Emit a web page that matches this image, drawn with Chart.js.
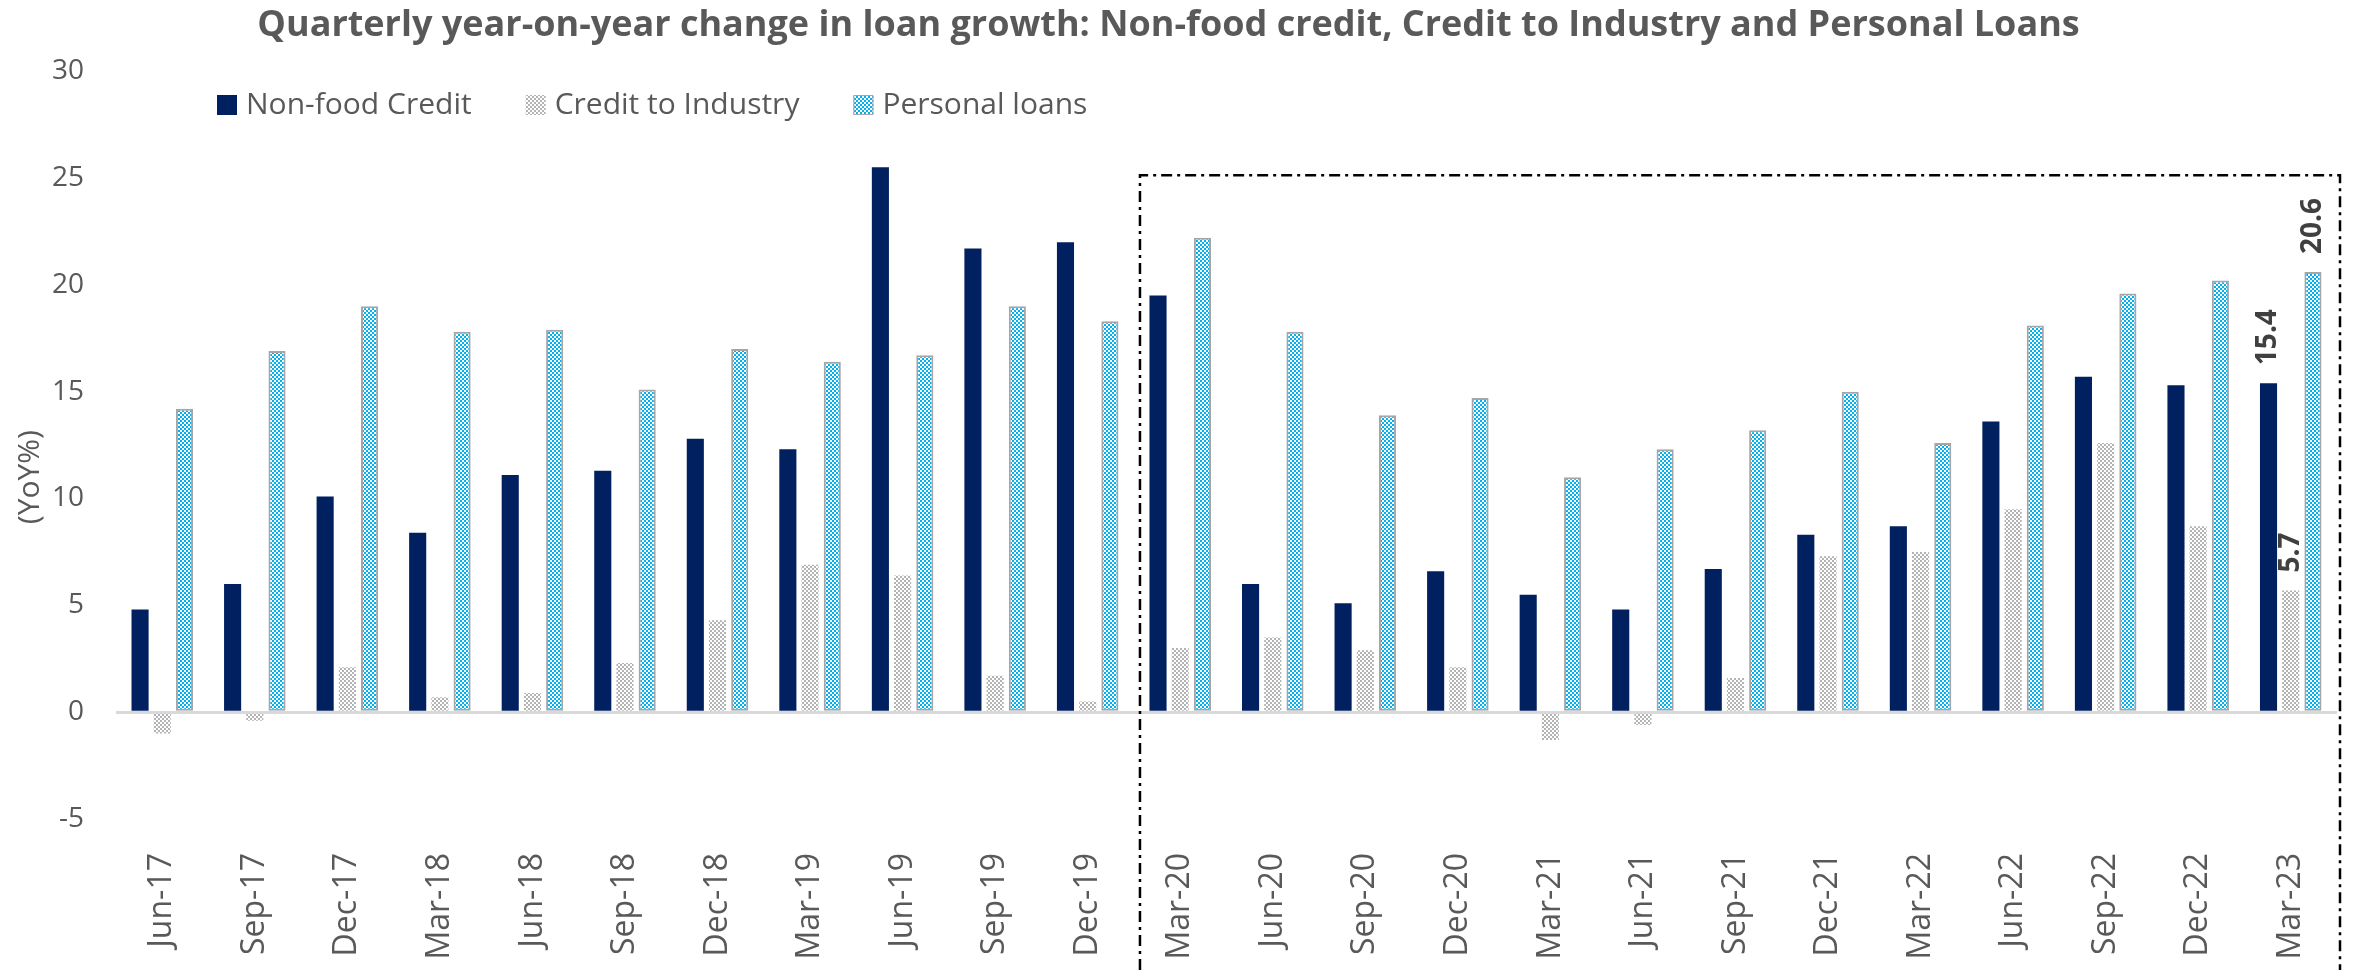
<!DOCTYPE html>
<html>
<head>
<meta charset="utf-8">
<title>Loan growth</title>
<script src="https://cdn.jsdelivr.net/npm/chart.js@4.4.1/dist/chart.umd.min.js"></script>
<style>
  html, body { margin: 0; padding: 0; background: #fff; }
  #wrap { width: 2364px; height: 970px; }
</style>
</head>
<body>
<div id="wrap"><canvas id="loanChart"></canvas></div>
<script>
// Data (YoY %)
const quarters = ['Jun-17', 'Sep-17', 'Dec-17', 'Mar-18', 'Jun-18', 'Sep-18', 'Dec-18', 'Mar-19',
  'Jun-19', 'Sep-19', 'Dec-19', 'Mar-20', 'Jun-20', 'Sep-20', 'Dec-20', 'Mar-21',
  'Jun-21', 'Sep-21', 'Dec-21', 'Mar-22', 'Jun-22', 'Sep-22', 'Dec-22', 'Mar-23'];
const nonFoodCredit = [4.8, 6.0, 10.1, 8.4, 11.1, 11.3, 12.8, 12.3, 25.5, 21.7, 22.0, 19.5,
  6.0, 5.1, 6.6, 5.5, 4.8, 6.7, 8.3, 8.7, 13.6, 15.7, 15.3, 15.4];
const creditToIndustry = [-1.0, -0.4, 2.1, 0.7, 0.9, 2.3, 4.3, 6.9, 6.4, 1.7, 0.5, 3.0,
  3.5, 2.9, 2.1, -1.3, -0.6, 1.6, 7.3, 7.5, 9.5, 12.6, 8.7, 5.7];
const personalLoans = [14.2, 16.9, 19.0, 17.8, 17.9, 15.1, 17.0, 16.4, 16.7, 19.0, 18.3, 22.2,
  17.8, 13.9, 14.7, 11.0, 12.3, 13.2, 15.0, 12.6, 18.1, 19.6, 20.2, 20.6];
const yTicks = [-5, 0, 5, 10, 15, 20, 25, 30];
const labelledQuarter = 'Mar-23';
const boxFromQuarter = 'Mar-20';

const FONT = '"Open Sans", "Noto Sans", sans-serif';
const TEXT = '#595959';

// checker patterns like the Excel fills
function makePattern(fg, bg, cell) {
  const c = document.createElement('canvas');
  c.width = cell * 2; c.height = cell * 2;
  const g = c.getContext('2d');
  g.fillStyle = bg; g.fillRect(0, 0, c.width, c.height);
  g.fillStyle = fg;
  g.fillRect(0, 0, cell, cell);
  g.fillRect(cell, cell, cell, cell);
  return g.createPattern(c, 'repeat');
}
const industryFill = makePattern('#b3b3b3', '#ffffff', 2);
const personalFill = makePattern('#00b0f0', '#ffffff', 2);

// legend drawn inside the plot, top-left
const customLegend = {
  id: 'customLegend',
  afterDraw(chart) {
    const ctx = chart.ctx;
    let x = 217;
    const y = 105;
    ctx.save();
    ctx.font = '30px ' + FONT;
    ctx.textBaseline = 'middle';
    chart.data.datasets.forEach(ds => {
      ctx.fillStyle = ds.backgroundColor;
      ctx.fillRect(x, y - 10, 20, 20);
      if (ds.borderWidth) {
        ctx.strokeStyle = ds.borderColor;
        ctx.lineWidth = 1;
        ctx.strokeRect(x + 0.5, y - 9.5, 19, 19);
      }
      ctx.fillStyle = TEXT;
      ctx.fillText(ds.label, x + 29, y);
      x += 29 + ctx.measureText(ds.label).width + 54;
    });
    ctx.restore();
  }
};

// rotated y axis caption
const yCaption = {
  id: 'yCaption',
  afterDraw(chart) {
    const ctx = chart.ctx;
    const y = chart.scales.y.getPixelForValue(11);
    ctx.save();
    ctx.translate(30, y);
    ctx.rotate(-Math.PI / 2);
    ctx.font = '30px ' + FONT;
    ctx.fillStyle = TEXT;
    ctx.textAlign = 'center';
    ctx.textBaseline = 'middle';
    ctx.fillText('(YoY%)', 0, 0);
    ctx.restore();
  }
};

// value labels on the latest quarter only
const barLabels = {
  id: 'barLabels',
  afterDatasetsDraw(chart) {
    const ctx = chart.ctx;
    const i = quarters.indexOf(labelledQuarter);
    ctx.save();
    ctx.font = 'bold 28px ' + FONT;
    ctx.fillStyle = '#404040';
    ctx.textAlign = 'left';
    ctx.textBaseline = 'middle';
    chart.data.datasets.forEach((ds, d) => {
      const bar = chart.getDatasetMeta(d).data[i];
      ctx.save();
      ctx.translate(bar.x, bar.y - 18);
      ctx.rotate(-Math.PI / 2);
      ctx.fillText(ds.data[i].toFixed(1), 0, 0);
      ctx.restore();
    });
    ctx.restore();
  }
};

// dash-dot box around the post-covid period
const periodBox = {
  id: 'periodBox',
  afterDraw(chart) {
    const {ctx, chartArea, scales} = chart;
    const i = quarters.indexOf(boxFromQuarter);
    const left = (scales.x.getPixelForValue(i - 1) + scales.x.getPixelForValue(i)) / 2 + 6;
    const right = chartArea.right + 3;
    const top = chartArea.top + 104;
    ctx.save();
    ctx.strokeStyle = '#000';
    ctx.lineWidth = 2.5;
    ctx.setLineDash([11, 5, 3, 5]);
    ctx.beginPath();
    ctx.moveTo(left, chart.height);
    ctx.lineTo(left, top);
    ctx.lineTo(right, top);
    ctx.lineTo(right, chart.height);
    ctx.stroke();
    ctx.restore();
  }
};

const ctx = document.getElementById('loanChart').getContext('2d');
const loanChart = new Chart(ctx, {
  type: 'bar',
  data: {
    labels: quarters,
    datasets: [{
      label: 'Non-food Credit',
      data: nonFoodCredit,
      backgroundColor: '#002060',
      borderWidth: 0
    }, {
      label: 'Credit to Industry',
      data: creditToIndustry,
      backgroundColor: industryFill,
      borderWidth: 0
    }, {
      label: 'Personal loans',
      data: personalLoans,
      backgroundColor: personalFill,
      borderColor: '#a6a6a6',
      borderWidth: 2,
      borderSkipped: false
    }]
  },
  options: {
    responsive: true,
    maintainAspectRatio: false,
    devicePixelRatio: 1,
    animation: false,
    categoryPercentage: 0.72,
    barPercentage: 0.77,
    layout: { padding: { left: 0, right: 27, top: 0, bottom: 0 } },
    plugins: {
      legend: { display: false },
      tooltip: { enabled: false },
      title: {
        display: true,
        text: 'Quarterly year-on-year change in loan growth: Non-food credit, Credit to Industry and Personal Loans',
        color: TEXT,
        font: { family: FONT, size: 36, weight: 'bold' },
        padding: { top: 4, bottom: 24 }
      }
    },
    scales: {
      x: {
        grid: { display: false },
        border: { display: false },
        ticks: {
          color: TEXT,
          font: { family: FONT, size: 32 },
          minRotation: 90,
          maxRotation: 90,
          padding: 26,
          autoSkip: false
        },
        afterFit(scale) { scale.height = 151; }
      },
      y: {
        min: yTicks[0],
        max: yTicks[yTicks.length - 1],
        grid: {
          drawTicks: false,
          color: c => (c.tick && c.tick.value === 0 ? '#d9d9d9' : 'rgba(0,0,0,0)'),
          lineWidth: 3
        },
        border: { display: false },
        ticks: {
          stepSize: 5,
          color: TEXT,
          font: { family: FONT, size: 28 },
          padding: 32
        },
        afterFit(scale) { scale.width = 116; }
      }
    }
  },
  plugins: [customLegend, yCaption, barLabels, periodBox]
});
</script>
</body>
</html>
